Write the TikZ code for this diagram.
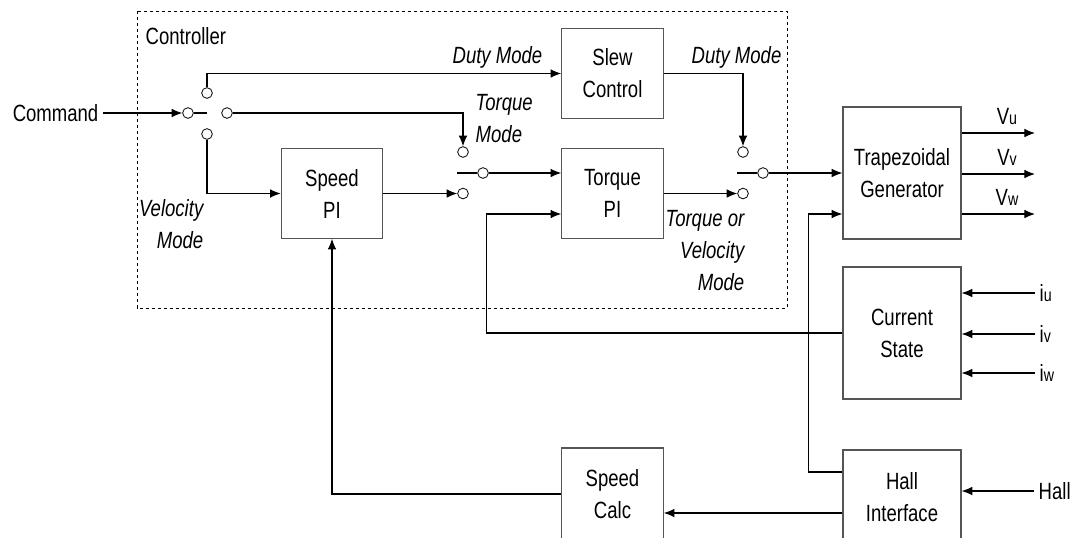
\documentclass[tikz,border=0pt]{standalone}
\usepackage{fontspec}
\setmainfont[FakeStretch=0.79]{Liberation Sans}
\usetikzlibrary{arrows.meta, positioning, calc}
\definecolor{boxGray}{HTML}{555555}

\begin{document}
\begin{tikzpicture}[x=0.75pt,y=-0.75pt,
  font=\fontsize{17.6}{24}\selectfont,
  blk/.style={draw=boxGray,line width=0.9pt,align=center,inner sep=0pt},
  port/.style={circle,draw,fill=white,minimum size=8pt,inner sep=0pt,line width=0.6pt},
  wire/.style={line width=0.8pt},
  sig/.style={wire,-{Latex[length=8pt,width=6.5pt]}},
  lbl/.style={font=\fontsize{17.6}{24}\selectfont\itshape}]
\useasboundingbox (0,0) rectangle (1082,537);
% controller frame
\draw[dashed,dash pattern=on 2.5pt off 2pt,line width=0.6pt] (137,11) rectangle (787,308);
\node[anchor=west] (ctrl) at (141,36) {Controller};
% blocks
\node[blk,minimum width=76pt,minimum height=67pt] (speedpi) at (332,193.5) {Speed\\PI};
\node[blk,minimum width=76pt,minimum height=67pt] (slew) at (612.5,73.5) {Slew\\Control};
\node[blk,minimum width=76pt,minimum height=67pt] (torquepi) at (612.5,193.5) {Torque\\PI};
\node[blk,minimum width=88.5pt,minimum height=99pt] (trap) at (902,173) {Trapezoidal\\Generator};
\node[blk,minimum width=88.5pt,minimum height=99pt] (cur) at (902,333) {Current\\State};
\node[blk,minimum width=88.5pt,minimum height=70.5pt] (hall) at (902,497) {Hall\\Interface};
\node[blk,minimum width=76pt,minimum height=69pt] (spdcalc) at (612.5,494) {Speed\\Calc};
% mode switches
\node[port] (s1in) at (188,113) {};
\node[port] (s1a) at (207,93) {};
\node[port] (s1b) at (227,113) {};
\node[port] (s1c) at (207,134) {};
\coordinate (s1tip) at (207,113);
\node[port] (s2top) at (463,152) {};
\node[port] (s2bot) at (463,193.5) {};
\node[port] (s2com) at (483,173) {};
\coordinate (s2tip) at (457,173);
\node[port] (s3top) at (743,152) {};
\node[port] (s3bot) at (743,193.5) {};
\node[port] (s3com) at (763,173) {};
\coordinate (s3tip) at (737,173);
\draw[wire] (s1in.east) -- (s1tip);
\draw[wire] (s2tip) -- (s2com.west);
\draw[wire] (s3tip) -- (s3com.west);
% command path
\node[anchor=east] (cmd) at (103,113) {Command};
\draw[sig] (cmd.east) -- (s1in.west);
\draw[sig] (s1a.north) |- (slew.west);
\draw[sig] (s1b.east) -| (s2top.north);
\draw[sig] (s1c.south) |- (speedpi.west);
\draw[sig] (speedpi.east) -- (s2bot.west);
\draw[sig] (s2com.east) -- (s2com.east -| torquepi.west);
\draw[sig] (slew.east) -| (s3top.north);
\draw[sig] (torquepi.east) -- (s3bot.west);
\draw[sig] (s3com.east) -- (trap.west);
% mode labels
\node[lbl,anchor=east] (dm1) at (547,57) {Duty Mode};
\node[lbl,anchor=west] (dm2) at (687,57) {Duty Mode};
\node[lbl,anchor=west,align=left] (tm) at (471,119) {Torque\\Mode};
\node[lbl,anchor=east,align=right] (vm) at (208,224) {Velocity\\Mode};
\node[lbl,anchor=east,align=right] (tvm) at (749,251) {Torque or\\Velocity\\Mode};
% outputs
\foreach \y/\s in {133/u,174/v,214/w} {
  \coordinate (v\s) at (1035,\y);
  \draw[sig] (v\s -| trap.east) -- (v\s);
  \node[anchor=base] (lv\s) at (1007,\y-9) {V{\fontsize{13.5}{13.5}\selectfont\s}};
}
% current inputs
\foreach \y/\s in {293/u,334/v,373/w} {
  \node[anchor=west] (i\s) at (1035,\y) {i{\fontsize{13.5}{13.5}\selectfont\s}};
  \draw[sig] (i\s.west) -- (i\s.west -| cur.east);
}
\node[anchor=west] (hallin) at (1034,491) {Hall};
\draw[sig] (hallin.west) -- (hallin.west -| hall.east);
% feedback
\coordinate (tqin) at ($(torquepi.west)+(0,20.5)$);
\draw[sig] (cur.west) -| ($(tqin)+(-75,0)$) -- (tqin);
\coordinate (trin) at ($(trap.west)+(0,41)$);
\draw[sig] ($(hall.west)+(0,-25)$) -| ($(trin)+(-34,0)$) -- (trin);
\coordinate (hallout) at ($(hall.west)+(0,16)$);
\draw[sig] (hallout) -- (hallout -| spdcalc.east);
\draw[sig] (spdcalc.west) -| (speedpi.south);
\end{tikzpicture}
\end{document}
